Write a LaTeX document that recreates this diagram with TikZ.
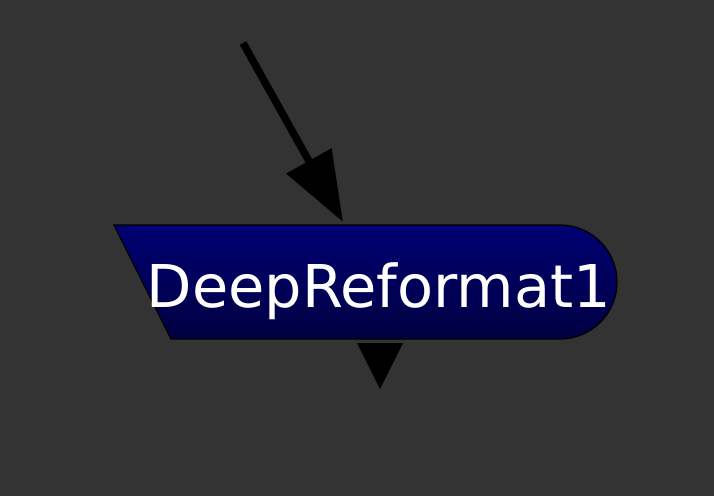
\documentclass[tikz,border=0pt]{standalone}
\usepackage{fontspec}
\setmainfont{DejaVu Sans}
\usetikzlibrary{arrows.meta,positioning,calc}
\definecolor{bgcol}{HTML}{333333}
\definecolor{navytop}{HTML}{000072}
\definecolor{navybot}{HTML}{000042}

\begin{document}
\begin{tikzpicture}[x=1pt,y=-1pt,
    nodetext/.style={text=white,font=\fontsize{59}{62}\selectfont,inner sep=0pt},
    pipe/.style={line width=7.5pt,-{Triangle[length=70pt,width=50pt]}}]
  \fill[bgcol] (0,0) rectangle (714,496);
  \useasboundingbox (0,0) rectangle (714,496);

  % node body
  \draw[black,line width=1.3pt,top color=navytop,bottom color=navybot]
    (114,225) -- (560,225) arc[start angle=-90,end angle=90,radius=57]
    -- (171,339) -- cycle;
  \node[nodetext,anchor=base] (reformat) at (379,307) {DeepReformat1};

  % input pipe
  \coordinate (src) at (243,43);
  \coordinate (in) at (343,222);
  \draw[pipe] (src) -- (in);

  % output marker
  \coordinate (out) at (380,343);
  \fill[black] ($(out)+(-23,0)$) -- ($(out)+(23,0)$) -- ($(out)+(0,46)$) -- cycle;
\end{tikzpicture}
\end{document}
